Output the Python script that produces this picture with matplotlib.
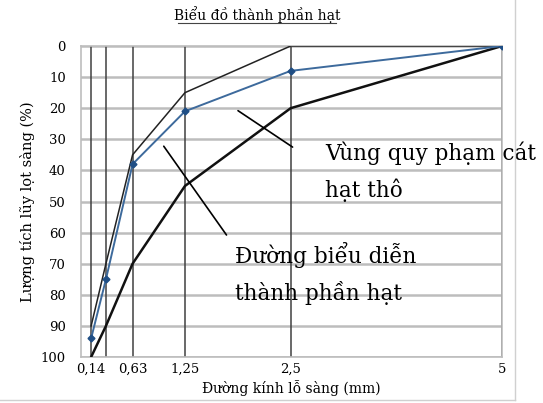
import matplotlib.pyplot as plt

# co sang (mm) va luong tich luy (%)
sieve = [0.14, 0.315, 0.63, 1.25, 2.5, 5]
tick_labels = ['0,14', '', '0,63', '1,25', '2,5', '5']
mau_thu = [94, 75, 38, 21, 8, 0]
gioi_han_tren = [90, 70, 35, 15, 0, 0]
gioi_han_duoi = [100, 90, 70, 45, 20, 0]
y_ticks = [0, 10, 20, 30, 40, 50, 60, 70, 80, 90, 100]

plt.rcParams['font.family'] = ['DejaVu Serif']

fig = plt.figure(figsize=(5.43, 4.03), dpi=100)
ax = fig.add_axes([81/543, 46/403, 421/543, 311/403])

# luoi
for y in y_ticks:
    ax.axhline(y, color='#bdbdbd', lw=1.8, zorder=0)
for x in sieve:
    ax.axvline(x, color='#404040', lw=1.1, zorder=1)

ax.plot(sieve, gioi_han_tren, color='#222222', lw=1.1, zorder=3)
ax.plot(sieve, gioi_han_duoi, color='#111111', lw=1.8, zorder=3)
ax.plot(sieve, mau_thu, color='#3d6a9c', lw=1.4, marker='D', ms=3.5,
        mec='#1f4e85', mfc='#1f4e85', zorder=4)

ax.set_xlim(0.02, 5)
ax.set_ylim(100, 0)
ax.set_xticks(sieve)
ax.set_xticklabels(tick_labels, fontsize=9.5)
ax.set_yticks(y_ticks)
ax.set_yticklabels([str(v) for v in y_ticks], fontsize=9.5)
ax.tick_params(axis='y', length=0, pad=11)
ax.tick_params(axis='x', length=0, pad=4)
for s in ax.spines.values():
    s.set_color('#bdbdbd')
    s.set_linewidth(1.2)

ax.set_xlabel('Đường kính lỗ sàng (mm)', fontsize=10, labelpad=3)
ax.set_ylabel('Lượng tích lũy lọt sàng (%)', fontsize=10.5, labelpad=4)
fig.text(257/543, 1 - 15/403, 'Biểu đồ thành phần hạt', fontsize=10,
         ha='center', va='center')
fig.add_artist(plt.Line2D([178/543, 336/543], [1 - 23/403, 1 - 23/403],
                          color='#444444', lw=0.8))

# chu thich
ax.annotate('', xy=(1.85, 20.3), xytext=(2.55, 33),
            arrowprops=dict(arrowstyle='-', color='black', lw=1.2))
ax.text(2.91, 36.7, 'Vùng quy phạm cát', fontsize=15.5, va='baseline', ha='left')
ax.text(2.91, 48.6, 'hạt thô', fontsize=15.5, va='baseline', ha='left')
ax.annotate('', xy=(0.98, 31.5), xytext=(1.76, 61.5),
            arrowprops=dict(arrowstyle='-', color='black', lw=1.2))
ax.text(1.84, 69.8, 'Đường biểu diễn', fontsize=15.5, va='baseline', ha='left')
ax.text(1.84, 81.7, 'thành phần hạt', fontsize=15.5, va='baseline', ha='left')

# khung
fig.add_artist(plt.Line2D([515/543, 515/543], [3/403, 1], color='#d0d0d0', lw=1))
fig.add_artist(plt.Line2D([0, 515/543], [3/403, 3/403], color='#d0d0d0', lw=1))

fig.savefig('out.png', dpi=100)
